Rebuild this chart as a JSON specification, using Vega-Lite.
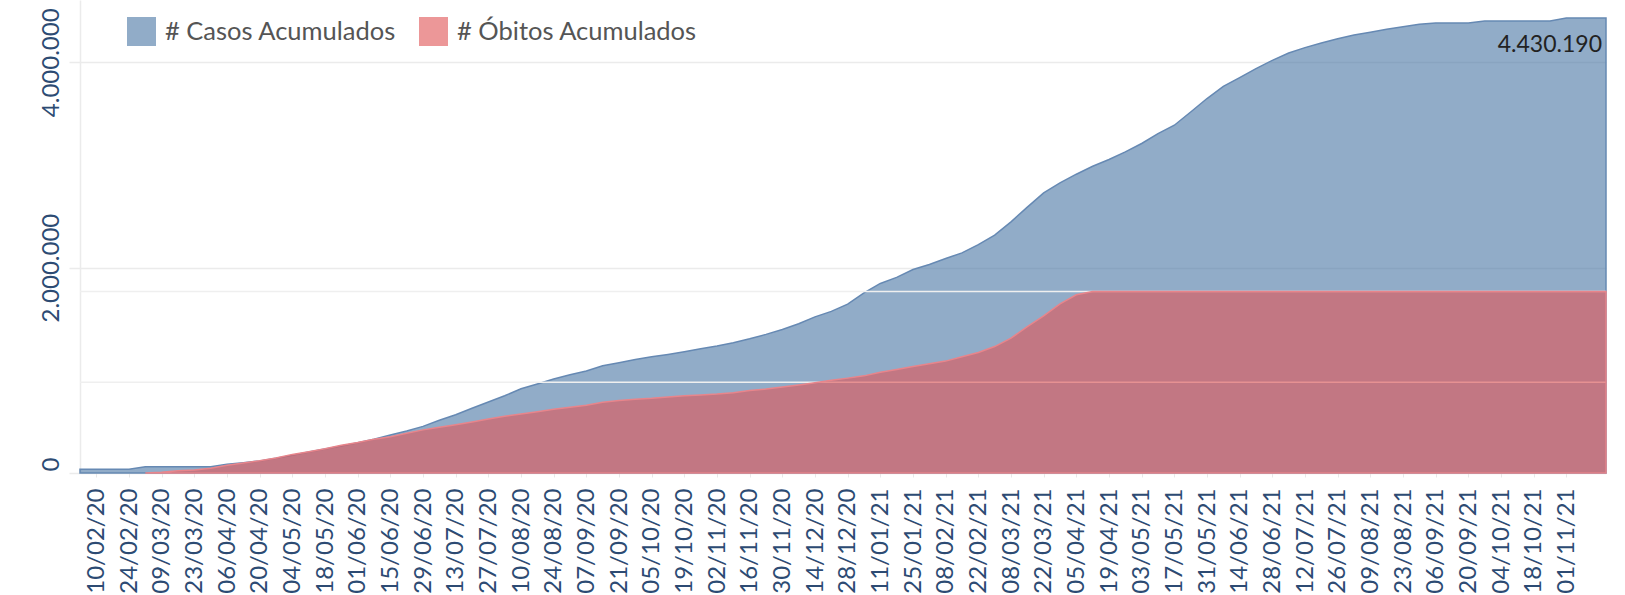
{
  "$schema": "https://vega.github.io/schema/vega-lite/v6.json",
  "autosize": {"type": "none"},
  "width": 1526,
  "height": 473,
  "padding": {"left": 80, "top": 0, "right": 19, "bottom": 122},
  "background": "white",
  "config": {
    "locale": {"number": {"decimal": ",", "thousands": ".", "grouping": [3], "currency": ["R$", ""]}},
    "view": {"stroke": null},
    "font": "Lato",
    "axisX": {"labelOverlap": false, "labelSeparation": 0, "labelFlush": false, "labelBound": false, "tickCount": 200}
  },
  "data": {"values": [
    {"date": "2020-02-03", "cases": 36000, "deaths": null},
    {"date": "2020-02-10", "cases": 36000, "deaths": null},
    {"date": "2020-02-17", "cases": 36000, "deaths": null},
    {"date": "2020-02-24", "cases": 36000, "deaths": null},
    {"date": "2020-03-02", "cases": 61000, "deaths": 0},
    {"date": "2020-03-09", "cases": 61000, "deaths": 300},
    {"date": "2020-03-16", "cases": 61000, "deaths": 1000},
    {"date": "2020-03-23", "cases": 61000, "deaths": 1300},
    {"date": "2020-03-30", "cases": 61000, "deaths": 2100},
    {"date": "2020-04-06", "cases": 85000, "deaths": 3400},
    {"date": "2020-04-13", "cases": 100000, "deaths": 4400},
    {"date": "2020-04-20", "cases": 117000, "deaths": 5400},
    {"date": "2020-04-27", "cases": 143000, "deaths": 6600},
    {"date": "2020-05-04", "cases": 172000, "deaths": 8200},
    {"date": "2020-05-11", "cases": 204000, "deaths": 9400},
    {"date": "2020-05-18", "cases": 234000, "deaths": 10700},
    {"date": "2020-05-25", "cases": 263000, "deaths": 12200},
    {"date": "2020-06-01", "cases": 295000, "deaths": 13400},
    {"date": "2020-06-08", "cases": 328000, "deaths": 14900},
    {"date": "2020-06-15", "cases": 370000, "deaths": 16000},
    {"date": "2020-06-22", "cases": 409000, "deaths": 17500},
    {"date": "2020-06-29", "cases": 454000, "deaths": 19000},
    {"date": "2020-07-06", "cases": 513000, "deaths": 20200},
    {"date": "2020-07-13", "cases": 567000, "deaths": 21300},
    {"date": "2020-07-20", "cases": 630000, "deaths": 22500},
    {"date": "2020-07-27", "cases": 691000, "deaths": 23800},
    {"date": "2020-08-03", "cases": 752000, "deaths": 25000},
    {"date": "2020-08-10", "cases": 820000, "deaths": 26000},
    {"date": "2020-08-17", "cases": 866000, "deaths": 27000},
    {"date": "2020-08-24", "cases": 915000, "deaths": 28100},
    {"date": "2020-08-31", "cases": 957000, "deaths": 29000},
    {"date": "2020-09-07", "cases": 993000, "deaths": 29900},
    {"date": "2020-09-14", "cases": 1044000, "deaths": 31200},
    {"date": "2020-09-21", "cases": 1074000, "deaths": 31900},
    {"date": "2020-09-28", "cases": 1106000, "deaths": 32500},
    {"date": "2020-10-05", "cases": 1132000, "deaths": 32900},
    {"date": "2020-10-12", "cases": 1155000, "deaths": 33500},
    {"date": "2020-10-19", "cases": 1181000, "deaths": 34000},
    {"date": "2020-10-26", "cases": 1210000, "deaths": 34400},
    {"date": "2020-11-02", "cases": 1236000, "deaths": 34800},
    {"date": "2020-11-09", "cases": 1268000, "deaths": 35400},
    {"date": "2020-11-16", "cases": 1307000, "deaths": 36300},
    {"date": "2020-11-23", "cases": 1350000, "deaths": 37000},
    {"date": "2020-11-30", "cases": 1398000, "deaths": 37900},
    {"date": "2020-12-07", "cases": 1453000, "deaths": 38800},
    {"date": "2020-12-14", "cases": 1521000, "deaths": 39800},
    {"date": "2020-12-21", "cases": 1574000, "deaths": 40900},
    {"date": "2020-12-28", "cases": 1645000, "deaths": 41800},
    {"date": "2021-01-04", "cases": 1755000, "deaths": 42800},
    {"date": "2021-01-11", "cases": 1846000, "deaths": 44400},
    {"date": "2021-01-18", "cases": 1905000, "deaths": 45600},
    {"date": "2021-01-25", "cases": 1982000, "deaths": 46900},
    {"date": "2021-02-01", "cases": 2031000, "deaths": 48100},
    {"date": "2021-02-08", "cases": 2089000, "deaths": 49300},
    {"date": "2021-02-15", "cases": 2144000, "deaths": 51200},
    {"date": "2021-02-22", "cases": 2225000, "deaths": 53100},
    {"date": "2021-03-01", "cases": 2316000, "deaths": 55700},
    {"date": "2021-03-08", "cases": 2446000, "deaths": 59400},
    {"date": "2021-03-15", "cases": 2589000, "deaths": 64500},
    {"date": "2021-03-22", "cases": 2728000, "deaths": 69200},
    {"date": "2021-03-29", "cases": 2825000, "deaths": 74500},
    {"date": "2021-04-05", "cases": 2910000, "deaths": 78500},
    {"date": "2021-04-12", "cases": 2988000, "deaths": 80000},
    {"date": "2021-04-19", "cases": 3053000, "deaths": 80000},
    {"date": "2021-04-26", "cases": 3127000, "deaths": 80000},
    {"date": "2021-05-03", "cases": 3209000, "deaths": 80000},
    {"date": "2021-05-10", "cases": 3306000, "deaths": 80000},
    {"date": "2021-05-17", "cases": 3387000, "deaths": 80000},
    {"date": "2021-05-24", "cases": 3516000, "deaths": 80000},
    {"date": "2021-05-31", "cases": 3647000, "deaths": 80000},
    {"date": "2021-06-07", "cases": 3766000, "deaths": 80000},
    {"date": "2021-06-14", "cases": 3851000, "deaths": 80000},
    {"date": "2021-06-21", "cases": 3939000, "deaths": 80000},
    {"date": "2021-06-28", "cases": 4019000, "deaths": 80000},
    {"date": "2021-07-05", "cases": 4091000, "deaths": 80000},
    {"date": "2021-07-12", "cases": 4143000, "deaths": 80000},
    {"date": "2021-07-19", "cases": 4188000, "deaths": 80000},
    {"date": "2021-07-26", "cases": 4230000, "deaths": 80000},
    {"date": "2021-08-02", "cases": 4266000, "deaths": 80000},
    {"date": "2021-08-09", "cases": 4292000, "deaths": 80000},
    {"date": "2021-08-16", "cases": 4321000, "deaths": 80000},
    {"date": "2021-08-23", "cases": 4347000, "deaths": 80000},
    {"date": "2021-08-30", "cases": 4370000, "deaths": 80000},
    {"date": "2021-09-06", "cases": 4383000, "deaths": 80000},
    {"date": "2021-09-13", "cases": 4383000, "deaths": 80000},
    {"date": "2021-09-20", "cases": 4383000, "deaths": 80000},
    {"date": "2021-09-27", "cases": 4402000, "deaths": 80000},
    {"date": "2021-10-04", "cases": 4402000, "deaths": 80000},
    {"date": "2021-10-11", "cases": 4402000, "deaths": 80000},
    {"date": "2021-10-18", "cases": 4402000, "deaths": 80000},
    {"date": "2021-10-25", "cases": 4402000, "deaths": 80000},
    {"date": "2021-11-01", "cases": 4430190, "deaths": 80000},
    {"date": "2021-11-08", "cases": 4430190, "deaths": 80000},
    {"date": "2021-11-15", "cases": 4430190, "deaths": 80000},
    {"date": "2021-11-18", "cases": 4430190, "deaths": 80000}
  ]},
  "layer": [
    {
      "mark": {"type": "area", "interpolate": "linear", "fillOpacity": 0.62, "stroke": "#6689B3", "strokeWidth": 1.5},
      "encoding": {
        "x": {
          "field": "date", "type": "temporal", "title": null,
          "scale": {"type": "utc", "domain": [{"year": 2020, "month": 2, "date": 3, "utc": true}, {"year": 2021, "month": 11, "date": 18, "utc": true}]},
          "axis": {
            "values": [
              {"year": 2020, "month": 2, "date": 10, "utc": true}, {"year": 2020, "month": 2, "date": 24, "utc": true},
              {"year": 2020, "month": 3, "date": 9, "utc": true}, {"year": 2020, "month": 3, "date": 23, "utc": true},
              {"year": 2020, "month": 4, "date": 6, "utc": true}, {"year": 2020, "month": 4, "date": 20, "utc": true},
              {"year": 2020, "month": 5, "date": 4, "utc": true}, {"year": 2020, "month": 5, "date": 18, "utc": true},
              {"year": 2020, "month": 6, "date": 1, "utc": true}, {"year": 2020, "month": 6, "date": 15, "utc": true},
              {"year": 2020, "month": 6, "date": 29, "utc": true}, {"year": 2020, "month": 7, "date": 13, "utc": true},
              {"year": 2020, "month": 7, "date": 27, "utc": true}, {"year": 2020, "month": 8, "date": 10, "utc": true},
              {"year": 2020, "month": 8, "date": 24, "utc": true}, {"year": 2020, "month": 9, "date": 7, "utc": true},
              {"year": 2020, "month": 9, "date": 21, "utc": true}, {"year": 2020, "month": 10, "date": 5, "utc": true},
              {"year": 2020, "month": 10, "date": 19, "utc": true}, {"year": 2020, "month": 11, "date": 2, "utc": true},
              {"year": 2020, "month": 11, "date": 16, "utc": true}, {"year": 2020, "month": 11, "date": 30, "utc": true},
              {"year": 2020, "month": 12, "date": 14, "utc": true}, {"year": 2020, "month": 12, "date": 28, "utc": true},
              {"year": 2021, "month": 1, "date": 11, "utc": true}, {"year": 2021, "month": 1, "date": 25, "utc": true},
              {"year": 2021, "month": 2, "date": 8, "utc": true}, {"year": 2021, "month": 2, "date": 22, "utc": true},
              {"year": 2021, "month": 3, "date": 8, "utc": true}, {"year": 2021, "month": 3, "date": 22, "utc": true},
              {"year": 2021, "month": 4, "date": 5, "utc": true}, {"year": 2021, "month": 4, "date": 19, "utc": true},
              {"year": 2021, "month": 5, "date": 3, "utc": true}, {"year": 2021, "month": 5, "date": 17, "utc": true},
              {"year": 2021, "month": 5, "date": 31, "utc": true}, {"year": 2021, "month": 6, "date": 14, "utc": true},
              {"year": 2021, "month": 6, "date": 28, "utc": true}, {"year": 2021, "month": 7, "date": 12, "utc": true},
              {"year": 2021, "month": 7, "date": 26, "utc": true}, {"year": 2021, "month": 8, "date": 9, "utc": true},
              {"year": 2021, "month": 8, "date": 23, "utc": true}, {"year": 2021, "month": 9, "date": 6, "utc": true},
              {"year": 2021, "month": 9, "date": 20, "utc": true}, {"year": 2021, "month": 10, "date": 4, "utc": true},
              {"year": 2021, "month": 10, "date": 18, "utc": true}, {"year": 2021, "month": 11, "date": 1, "utc": true}
            ],
            "tickCount": 200,
            "format": "%d/%m/%y",
            "labelAngle": 270,
            "labelAlign": "right",
            "labelBaseline": "middle",
            "labelFont": "Lato",
            "labelFontSize": 24,
            "labelColor": "#2D4B73",
            "labelPadding": 11,
            "labelOverlap": false,
            "labelSeparation": 0,
            "labelFlush": false,
            "labelBound": false,
            "ticks": true,
            "tickColor": "#E8E8E8",
            "tickSize": 4,
            "domain": false,
            "grid": false
          }
        },
        "y": {
          "field": "cases", "type": "quantitative", "title": null,
          "scale": {"domain": [0, 4606700], "nice": false, "zero": true},
          "axis": {
            "orient": "left",
            "values": [0, 2000000, 4000000],
            "format": ",d",
            "labelAngle": 270,
            "labelAlign": "center",
            "labelBaseline": "bottom",
            "labelFont": "Lato",
            "labelFontSize": 24,
            "labelColor": "#2D4B73",
            "labelPadding": 6,
            "labelFlush": false,
            "labelOverlap": false,
            "labelOffset": {"condition": {"test": "datum.value === 0", "value": -9}, "value": 0},
            "grid": true,
            "gridColor": "#EBEBEB",
            "gridWidth": 1.5,
            "domain": true,
            "domainColor": "#EBEBEB",
            "domainWidth": 1.5,
            "ticks": true,
            "tickColor": "#EBEBEB",
            "tickSize": 11,
            "tickWidth": 1.5
          }
        },
        "color": {
          "datum": "# Casos Acumulados",
          "scale": {"domain": ["# Casos Acumulados", "# Óbitos Acumulados"], "range": ["#4E79A7", "#E15759"]},
          "legend": {
            "orient": "none", "legendX": 47, "legendY": 17, "direction": "horizontal", "title": null,
            "symbolType": "square", "symbolSize": 841, "symbolOpacity": 0.62, "symbolStrokeWidth": 0,
            "labelFont": "Lato", "labelFontSize": 25.5, "labelColor": "#555555", "labelOffset": 9,
            "columnPadding": 22, "padding": 0, "labelLimit": 400
          }
        }
      }
    },
    {
      "layer": [
        {
          "data": {"values": [{"g": 40000}, {"g": 80000}]},
          "mark": {"type": "rule", "color": "#EFEFEF", "strokeWidth": 1.5},
          "encoding": {
            "y": {"field": "g", "type": "quantitative", "title": null, "scale": {"domain": [0, 208400], "nice": false}, "axis": null}
          }
        },
        {
          "mark": {"type": "area", "interpolate": "linear", "fillOpacity": 0.62, "stroke": "#E8858B", "strokeWidth": 1.5},
          "encoding": {
            "x": {"field": "date", "type": "temporal", "title": null},
            "y": {"field": "deaths", "type": "quantitative", "title": null, "scale": {"domain": [0, 208400], "nice": false}, "axis": null},
            "color": {"datum": "# Óbitos Acumulados"}
          }
        }
      ]
    },
    {
      "transform": [{"filter": "utcyear(toDate(datum.date)) == 2021 && utcmonth(toDate(datum.date)) == 10 && utcdate(toDate(datum.date)) == 18"}],
      "mark": {"type": "text", "align": "right", "baseline": "alphabetic", "dx": -4, "dy": 34, "font": "Lato", "fontSize": 23, "color": "#222222"},
      "encoding": {
        "x": {"field": "date", "type": "temporal", "title": null},
        "y": {"field": "cases", "type": "quantitative", "title": null, "scale": {"domain": [0, 4606700], "nice": false}, "axis": null},
        "text": {"field": "cases", "type": "quantitative", "format": ",d"}
      }
    }
  ],
  "resolve": {"scale": {"y": "independent"}}
}
